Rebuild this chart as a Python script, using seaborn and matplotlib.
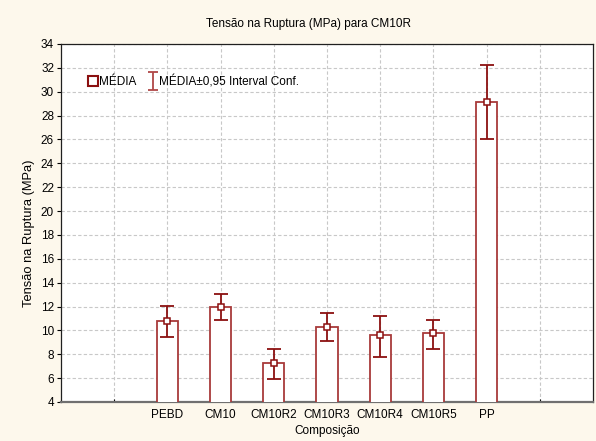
import numpy as np
import pandas as pd
import matplotlib
matplotlib.use("Agg")
import matplotlib.pyplot as plt
import seaborn as sns
from matplotlib.path import Path
from matplotlib.lines import Line2D

categories = ["PEBD", "CM10", "CM10R2", "CM10R3", "CM10R4", "CM10R5", "PP"]
means = [10.75, 12.0, 7.25, 10.3, 9.6, 9.75, 29.1]
ci_low = [9.45, 10.9, 5.9, 9.15, 7.8, 8.45, 26.0]
ci_high = [12.05, 13.05, 8.42, 11.5, 11.23, 10.9, 32.2]
tick_labels = [""] + categories + [""]
y_ticks = list(range(4, 35, 2))

sns.set_theme(style="white")
plt.rcParams['font.family'] = ['Liberation Sans', 'DejaVu Sans']
plt.rcParams['text.color'] = 'black'
plt.rcParams['axes.labelcolor'] = 'black'
plt.rcParams['xtick.color'] = 'black'
plt.rcParams['ytick.color'] = 'black'

dark = "#8B1010"
bar_edge = "#A83A3A"
bg = "#FDF8EC"

positions = list(range(2, 2 + len(categories)))
df = pd.DataFrame({"pos": positions, "mean": means, "cat": categories})

fig = plt.figure(figsize=(5.96, 4.41), dpi=100, facecolor=bg)
ax = fig.add_axes([61/596, 1 - 402/441, 532/596, 358/441])
ax.set_facecolor("white")

sns.barplot(data=df, x="pos", y="mean", native_scale=True, width=0.4,
            color="white", edgecolor=bar_edge, linewidth=1.3, errorbar=None, ax=ax, zorder=3)

lo = np.array(means) - np.array(ci_low)
hi = np.array(ci_high) - np.array(means)
ax.errorbar(positions, means, yerr=[lo, hi], fmt="none", ecolor=dark,
            elinewidth=1.3, capsize=5, capthick=1.3, zorder=4)
ax.plot(positions, means, ls="none", marker="s", ms=4, mfc="white",
        mec=dark, mew=1.1, zorder=5)

ax.set_xlim(0, 10)
ax.set_ylim(4, 34)
ax.set_xticks(range(1, 10))
ax.set_xticklabels(tick_labels, fontsize=8.5)
ax.set_yticks(y_ticks)
ax.set_yticklabels([str(v) for v in y_ticks], fontsize=8.5)
ax.grid(True, color="#C8C8C8", ls=(0, (3, 2)), lw=0.8, zorder=0)
ax.set_axisbelow(True)
ax.tick_params(axis="y", left=True, length=3, width=0.8, color="black", pad=2)
ax.tick_params(axis="x", bottom=True, direction="in", length=2, width=0.8, color="black", pad=5)

for s in ["left", "top", "right"]:
    ax.spines[s].set_color("#202020")
    ax.spines[s].set_linewidth(0.9)
ax.spines["bottom"].set_color("#707070")
ax.spines["bottom"].set_linewidth(1.6)

ax.set_xlabel("Composição", fontsize=8.5, labelpad=3)
ax.set_ylabel("Tensão na Ruptura (MPa)", fontsize=9.3)
ax.yaxis.set_label_coords((35 - 61) / 532, (402 - 233) / 358)
ax.set_title("Tensão na Ruptura (MPa) para CM10R", fontsize=8.5, pad=12,
             x=(309 - 61) / 532)

ipath = Path([(-0.5, 1), (0.5, 1), (0, 1), (0, -1), (-0.5, -1), (0.5, -1)],
             [Path.MOVETO, Path.LINETO, Path.MOVETO, Path.LINETO, Path.MOVETO, Path.LINETO])
h1 = Line2D([], [], ls="none", marker="s", ms=7, mfc="white", mec=dark, mew=1.5)
h2 = Line2D([], [], ls="none", marker=ipath, ms=13, mec="#B04848", mew=1.3)
ax.legend([h1, h2], ["MÉDIA", "MÉDIA±0,95 Interval Conf."], loc="center left",
          bbox_to_anchor=(0.05, 0.894), frameon=False, ncol=2, fontsize=8.5,
          handlelength=0.9, handletextpad=0.1, columnspacing=0.9, borderpad=0, borderaxespad=0)

fig.savefig("out.png", dpi=100, facecolor=bg)
